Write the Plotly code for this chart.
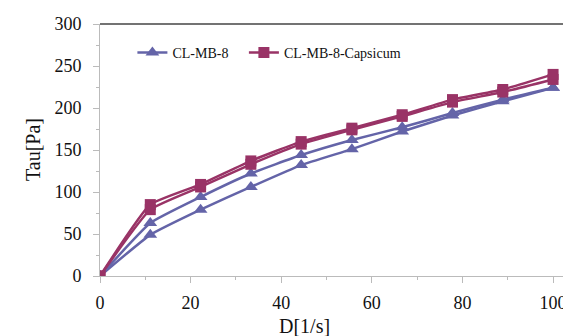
import plotly.graph_objects as go

shear_rate = [0, 11.1, 22.2, 33.3, 44.4, 55.6, 66.7, 77.8, 88.9, 100]
mb8_up = [0, 49, 79, 106, 132, 151, 172, 191, 208, 224]
mb8_down = [0, 63, 94, 122, 144, 162, 177, 194, 210, 224]
cap_up = [0, 79, 106, 133, 157, 174, 190, 207, 219, 234]
cap_down = [0, 85, 109, 137, 160, 176, 192, 210, 222, 240]

series_names = ["CL-MB-8", "CL-MB-8-Capsicum"]
x_ticks = [0, 20, 40, 60, 80, 100]
y_ticks = [0, 50, 100, 150, 200, 250, 300]

C_MB8 = "#6464A8"
C_CAP = "#993366"
FONT = "Liberation Serif, Times New Roman, serif"
TXT = "#111111"

fig = go.Figure()
series = [
    (series_names[0], mb8_up, mb8_down, C_MB8, "triangle-up", 12, "\u00a0\u00a0\u00a0"),
    (series_names[1], cap_up, cap_down, C_CAP, "square", 11, ""),
]
for name, up, down, col, sym, msz, pad in series:
    for i, ys in enumerate([up, down]):
        fig.add_trace(go.Scatter(
            x=shear_rate, y=ys, mode="lines+markers", name=name + pad,
            legendgroup=name, showlegend=(i == 0),
            line=dict(color=col, width=2.5, shape="spline", smoothing=0.4),
            marker=dict(symbol=sym, size=msz, color=col),
        ))

fig.update_layout(
    width=571, height=336,
    margin=dict(l=92, r=6, t=16, b=68),
    paper_bgcolor="white", plot_bgcolor="white",
    font=dict(family=FONT, color=TXT),
    showlegend=True,
    legend=dict(orientation="h", x=0.0685, y=0.885, xanchor="left", yanchor="middle",
                font=dict(family=FONT, size=14, color=TXT),
                bgcolor="rgba(0,0,0,0)", itemwidth=30, tracegroupgap=0),
)
fig.update_xaxes(
    range=[0, 104.4], tickvals=x_ticks, ticks="outside", ticklen=6, tickcolor="#BBBBBB",
    showline=True, linecolor="#BBBBBB", linewidth=1, mirror=False, showgrid=False, zeroline=False,
    tickfont=dict(family=FONT, size=18, color=TXT), automargin=False, ticklabelstandoff=4,
    minor=dict(dtick=10, ticks="outside", ticklen=3, tickcolor="#BBBBBB"),
)
fig.update_yaxes(
    range=[0, 300], tickvals=y_ticks, ticks="outside", ticklen=6, tickcolor="#BBBBBB",
    showline=True, linecolor="#BBBBBB", linewidth=1, showgrid=False, zeroline=False,
    tickfont=dict(family=FONT, size=18, color=TXT), automargin=False, ticklabelstandoff=8,
    minor=dict(dtick=25, ticks="outside", ticklen=3, tickcolor="#BBBBBB"),
)
# axis titles
fig.add_annotation(text="D[1/s]", xref="paper", yref="paper", x=0.4334, y=0,
                   xanchor="center", yanchor="middle", yshift=-50, showarrow=False,
                   borderpad=0, font=dict(family=FONT, size=20, color=TXT))
fig.add_annotation(text="Tau[Pa]", xref="paper", yref="paper", x=0, y=0.5,
                   xanchor="center", yanchor="middle", xshift=-67, textangle=-90,
                   showarrow=False, font=dict(family=FONT, size=20, color=TXT))
# plot-area frame: dark top edge and grey right edge
fig.add_shape(type="line", xref="paper", yref="paper", x0=0, x1=1, y0=1, y1=1,
              line=dict(color="#444444", width=1.5))
fig.add_shape(type="line", xref="paper", yref="paper", x0=1, x1=1, y0=0, y1=1,
              line=dict(color="#BBBBBB", width=1))

fig.write_html("out.html")
